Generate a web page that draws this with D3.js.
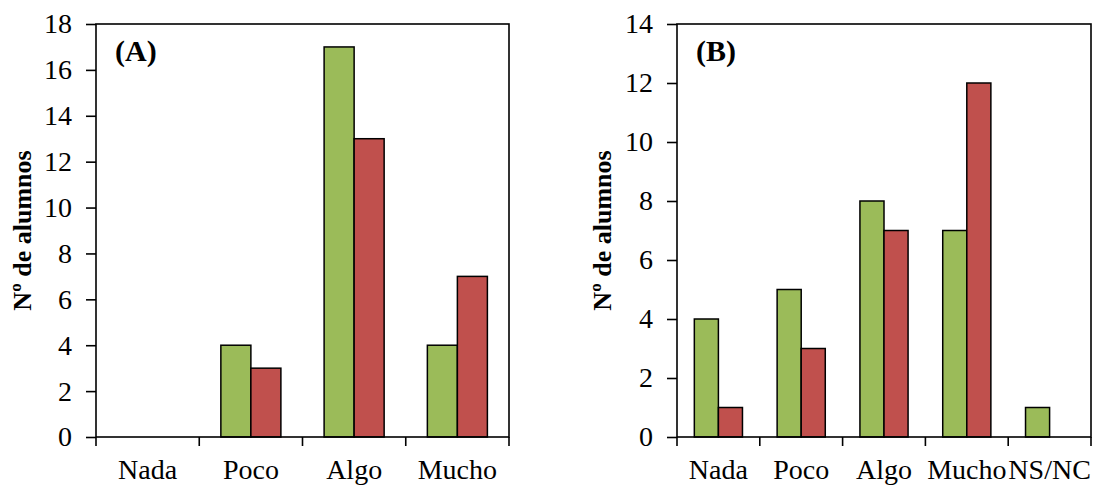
<!DOCTYPE html>
<html lang="es">
<head>
<meta charset="utf-8" />
<title>Nº de alumnos (A) y (B)</title>
<style>
  * {margin: 0; padding: 0;}
  body {background: #fff;}
  text {font-family: "Liberation Serif", "Times New Roman", serif; fill: #000;}
</style>
<script src="https://cdn.jsdelivr.net/npm/d3@7"></script>
</head>
<body>
<div id="viz"></div>
<script>
// data
var catsA = ["Nada", "Poco", "Algo", "Mucho"];
var greenA = [0, 4, 17, 4];
var redA = [0, 3, 13, 7];
var ticksA = [0, 2, 4, 6, 8, 10, 12, 14, 16, 18];

var catsB = ["Nada", "Poco", "Algo", "Mucho", "NS/NC"];
var greenB = [4, 5, 8, 7, 1];
var redB = [1, 3, 7, 12, 0];
var ticksB = [0, 2, 4, 6, 8, 10, 12, 14];

var colours = ["#9BBB59", "#C0504D"];
var w = 1095, h = 485;

var svg = d3.select("#viz").append("svg").attr("width", w).attr("height", h);

// one panel
function panel(opt) {
    var g = svg.append("g");
    var x = d3.scaleBand().domain(opt.cats).range([opt.left, opt.right]).padding(0);
    var sub = d3.scaleBand().domain([0, 1]).range([0, x.bandwidth()])
        .paddingInner(0).paddingOuter(0.72);
    var y = d3.scaleLinear().domain([0, d3.max(opt.ticks)]).range([opt.bottom, opt.top]);

    // bars
    var rows = [];
    opt.cats.forEach(function(c, i) {
        if (opt.green[i] > 0) rows.push({c: c, s: 0, v: opt.green[i]});
        if (opt.red[i] > 0) rows.push({c: c, s: 1, v: opt.red[i]});
    });
    g.selectAll("rect.bar").data(rows).enter().append("rect")
        .attr("class", "bar")
        .attr("x", function(d){ return x(d.c) + sub(d.s); })
        .attr("y", function(d){ return y(d.v); })
        .attr("width", sub.bandwidth())
        .attr("height", function(d){ return y(0) - y(d.v); })
        .style("fill", function(d){ return colours[d.s]; })
        .style("stroke", "#000")
        .style("stroke-width", 1.5);

    // frame
    g.append("rect")
        .attr("x", opt.left).attr("y", opt.top)
        .attr("width", opt.right - opt.left).attr("height", opt.bottom - opt.top)
        .style("fill", "none").style("stroke", "#000").style("stroke-width", 1.6);

    // y axis
    var ya = g.append("g").attr("transform", "translate(" + opt.left + ",0)")
        .call(d3.axisLeft(y).tickValues(opt.ticks).tickSize(10).tickPadding(14));
    ya.attr("font-family", null).attr("font-size", null);
    ya.select(".domain").remove();
    ya.selectAll("line").style("stroke", "#000").style("stroke-width", 1.6);
    ya.selectAll("text").style("font-size", "28px");

    // x ticks at category edges
    var edges = opt.cats.map(function(c){ return x(c); }).concat([opt.right]);
    g.selectAll("line.xt").data(edges).enter().append("line")
        .attr("x1", function(d){ return d; }).attr("x2", function(d){ return d; })
        .attr("y1", opt.bottom).attr("y2", opt.bottom + 9)
        .style("stroke", "#000").style("stroke-width", 1.6);

    g.selectAll("text.xl").data(opt.cats).enter().append("text")
        .attr("x", function(d){ return x(d) + x.bandwidth() / 2; })
        .attr("y", 479)
        .attr("text-anchor", "middle")
        .style("font-size", "28px")
        .text(function(d){ return d; });

    // axis title
    g.append("text")
        .attr("transform", "translate(" + opt.titleX + "," + ((opt.top + opt.bottom) / 2) + ") rotate(-90)")
        .attr("text-anchor", "middle")
        .style("font-size", "26px").style("font-weight", "bold")
        .text("Nº de alumnos");

    // panel letter
    g.append("text")
        .attr("x", opt.left + 19).attr("y", 61)
        .style("font-size", "30px").style("font-weight", "bold")
        .text(opt.label);
}

panel({cats: catsA, green: greenA, red: redA, ticks: ticksA,
       left: 96, right: 509, top: 24, bottom: 437, titleX: 31, label: "(A)"});
panel({cats: catsB, green: greenB, red: redB, ticks: ticksB,
       left: 677, right: 1091, top: 24, bottom: 437, titleX: 611, label: "(B)"});
</script>
</body>
</html>
